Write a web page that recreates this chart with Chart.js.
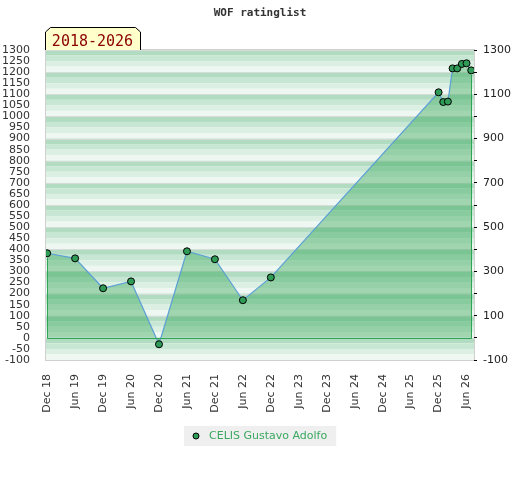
<!DOCTYPE html>
<html>
<head>
<meta charset="utf-8">
<script src="https://cdn.jsdelivr.net/npm/chart.js@4.4.0/dist/chart.umd.min.js"></script>
<style>
  body { margin: 0; background: #fff; }
</style>
</head>
<body>
<canvas id="Chart" width="520" height="480"></canvas>
<script>
const chartTitle = 'WOF ratinglist';
const periodLabel = '2018-2026';
const playerName = 'CELIS Gustavo Adolfo';

// months counted from Dec 2018
const monthOffsets = [0, 6, 12, 18, 24, 30, 36, 42, 48, 84, 85, 86, 87, 88, 89, 90, 91];
const ratings = [382, 359, 224, 255, -29, 391, 355, 170, 273, 1109, 1065, 1067, 1217, 1217, 1237, 1240, 1208];
const tickLabels = ['Dec 18', 'Jun 19', 'Dec 19', 'Jun 20', 'Dec 20', 'Jun 21', 'Dec 21', 'Jun 22',
                    'Dec 22', 'Jun 23', 'Dec 23', 'Jun 24', 'Dec 24', 'Jun 25', 'Dec 25', 'Jun 26'];

Chart.defaults.font.family = 'DejaVu Sans';
Chart.defaults.font.size = 11;
Chart.defaults.color = '#333';

const stripes = {
  id: 'stripes',
  beforeDraw(chart) {
    const {ctx, chartArea: a, scales: {y}} = chart;
    const cols = ['#b1dcc2', '#c7e6d3', '#dcefe3', '#eef7f1'];
    ctx.save();
    for (let v = 1300; v > -100; v -= 100) {
      for (let k = 0; k < 4; k++) {
        const t = y.getPixelForValue(v - k * 25), b = y.getPixelForValue(v - (k + 1) * 25);
        ctx.fillStyle = cols[k];
        ctx.fillRect(a.left, t, a.width, b - t);
      }
      ctx.fillStyle = '#d6dcd8';
      ctx.fillRect(a.left, Math.round(y.getPixelForValue(v)), a.width, 1);
    }
    ctx.strokeStyle = '#d0d0d0';
    ctx.lineWidth = 1;
    ctx.strokeRect(a.left - 0.5, a.top - 0.5, a.width + 1, a.height + 1);
    ctx.restore();
  }
};

// green outline of the area: zero line and the two end verticals
const areaEdges = {
  id: 'areaEdges',
  afterDatasetDraw(chart) {
    const {ctx, scales: {x, y}} = chart;
    const n = monthOffsets.length;
    const x0 = Math.round(x.getPixelForValue(monthOffsets[0])) + 0.5;
    const x1 = Math.round(x.getPixelForValue(monthOffsets[n - 1])) + 0.5;
    const zero = Math.round(y.getPixelForValue(0)) + 0.5;
    ctx.save();
    ctx.strokeStyle = '#2ea555';
    ctx.lineWidth = 1;
    ctx.beginPath();
    ctx.moveTo(x0, y.getPixelForValue(ratings[0]) + 4.5);
    ctx.lineTo(x0, zero);
    ctx.lineTo(x1, zero);
    ctx.lineTo(x1, y.getPixelForValue(ratings[n - 1]) + 4.5);
    ctx.stroke();
    ctx.restore();
  }
};

const decorations = {
  id: 'decorations',
  afterDraw(chart) {
    const {ctx, chartArea: a} = chart;
    ctx.save();
    // title
    ctx.fillStyle = '#333';
    ctx.font = 'bold 11px "DejaVu Sans Mono"';
    ctx.textAlign = 'center';
    ctx.textBaseline = 'middle';
    ctx.fillText(chartTitle, 260, 13);

    // period tag
    const l = a.left - 1, r = l + 95, t = 27, b = a.top;
    ctx.beginPath();
    ctx.moveTo(l + 0.5, b);
    ctx.lineTo(l + 0.5, t + 5);
    ctx.lineTo(l + 5.5, t + 0.5);
    ctx.lineTo(r - 4.5, t + 0.5);
    ctx.lineTo(r + 0.5, t + 5);
    ctx.lineTo(r + 0.5, b);
    ctx.fillStyle = '#ffffcc';
    ctx.fill();
    ctx.strokeStyle = '#000';
    ctx.lineWidth = 1;
    ctx.stroke();
    ctx.fillStyle = '#8b0000';
    ctx.font = '15px "DejaVu Sans Mono"';
    ctx.textAlign = 'center';
    ctx.textBaseline = 'alphabetic';
    ctx.fillText(periodLabel, (l + r) / 2, 46);

    // legend
    ctx.font = '11px "DejaVu Sans"';
    const tw = ctx.measureText(playerName).width;
    const bw = 25 + tw + 9;
    const bx = Math.round(260.5 - bw / 2);
    ctx.fillStyle = '#efefef';
    ctx.fillRect(bx, 426, bw, 20);
    ctx.beginPath();
    ctx.arc(bx + 12, 436, 3, 0, Math.PI * 2);
    ctx.fillStyle = '#2f9b56';
    ctx.fill();
    ctx.strokeStyle = '#000';
    ctx.stroke();
    ctx.fillStyle = '#3aa860';
    ctx.textAlign = 'left';
    ctx.textBaseline = 'middle';
    ctx.fillText(playerName, bx + 25, 436.5);
    ctx.restore();
  }
};

const ctx = document.getElementById('Chart').getContext('2d');
const myChart = new Chart(ctx, {
  type: 'line',
  data: {
    datasets: [{
      label: playerName,
      data: monthOffsets.map((m, i) => ({x: m, y: ratings[i]})),
      borderColor: '#5b9fd6',
      borderWidth: 1.2,
      backgroundColor: 'rgba(43,163,80,0.4)',
      fill: 'origin',
      tension: 0,
      pointRadius: 3.5,
      pointBackgroundColor: '#2f9b56',
      pointBorderColor: '#000',
      pointBorderWidth: 1
    }]
  },
  options: {
    responsive: false,
    animation: false,
    layout: {padding: {top: 50, left: 0, right: 0, bottom: 0}},
    plugins: {legend: {display: false}, title: {display: false}, tooltip: {enabled: false}},
    scales: {
      x: {
        type: 'linear',
        min: -0.25,
        max: 91.6,
        afterBuildTicks: s => { s.ticks = tickLabels.map((_, i) => ({value: i * 6})); },
        afterFit: s => { s.height = 120; },
        grid: {display: false},
        border: {display: false},
        ticks: {
          autoSkip: false,
          maxRotation: 90,
          minRotation: 90,
          padding: 6,
          color: '#333',
          callback: v => tickLabels[Math.round(v / 6)]
        }
      },
      y: {
        position: 'left',
        min: -100,
        max: 1300,
        afterFit: s => { s.width = 46; },
        grid: {display: false},
        border: {display: false},
        ticks: {stepSize: 50, autoSkip: false, padding: 8, color: '#333', callback: v => String(v)}
      },
      y2: {
        position: 'right',
        min: -100,
        max: 1300,
        afterFit: s => { s.width = 46; },
        grid: {display: true, drawOnChartArea: false, drawTicks: true, tickLength: 3, color: '#000'},
        border: {display: false},
        ticks: {
          stepSize: 100,
          autoSkip: false,
          padding: 6,
          color: '#222',
          callback: v => (v % 200 !== 0 ? String(v) : '')
        }
      }
    }
  },
  plugins: [stripes, areaEdges, decorations]
});
</script>
</body>
</html>
